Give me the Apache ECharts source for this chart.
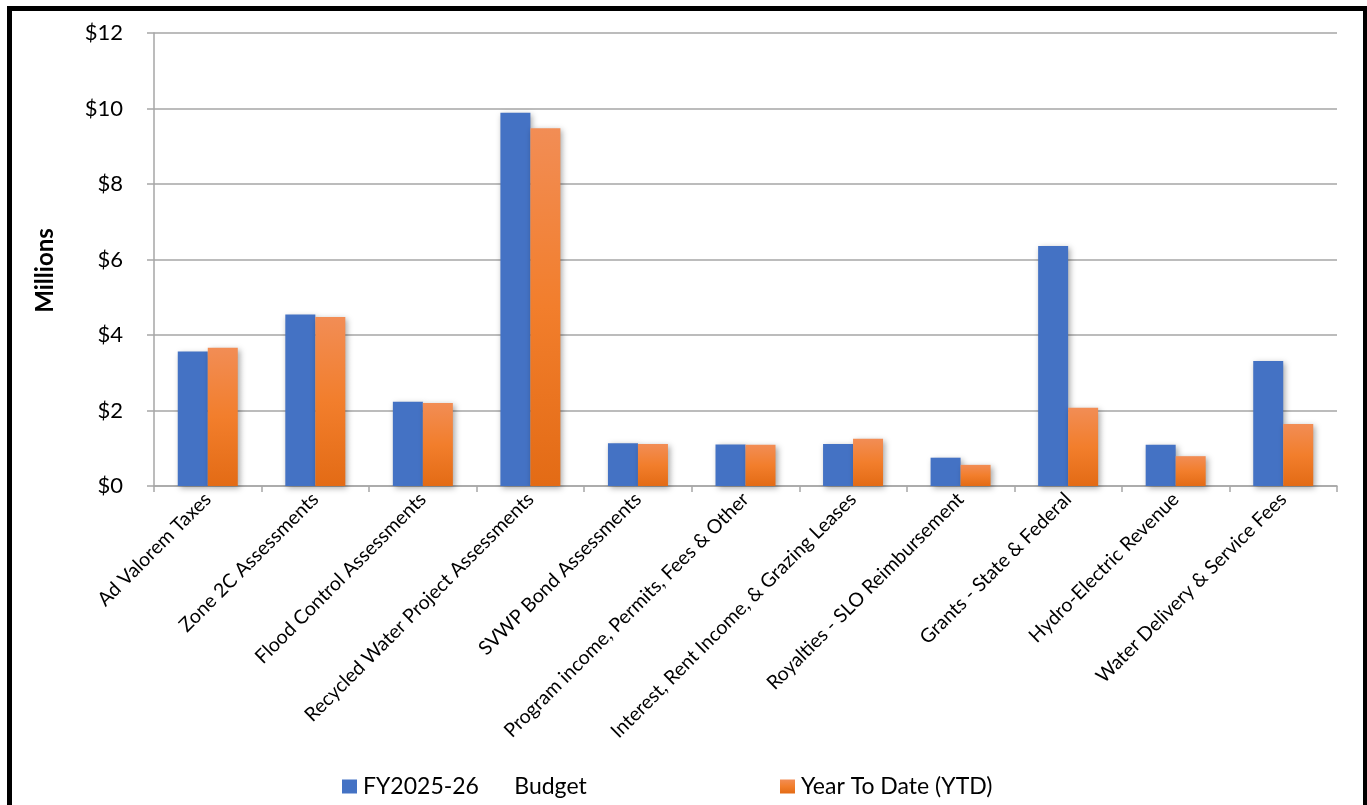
<!DOCTYPE html>
<html>
<head>
<meta charset="utf-8">
<script src="https://cdn.jsdelivr.net/npm/echarts@6/dist/echarts.min.js"></script>
<style>
html,body{margin:0;padding:0;background:#fff;}
#chart{width:1367px;height:805px;}
</style>
</head>
<body>
<div id="chart"></div>
<script>
const categories = [
  "Ad Valorem Taxes",
  "Zone 2C Assessments",
  "Flood Control Assessments",
  "Recycled Water Project Assessments",
  "SVWP Bond Assessments",
  "Program income, Permits, Fees & Other",
  "Interest, Rent Income, & Grazing Leases",
  "Royalties - SLO Reimbursement",
  "Grants - State & Federal",
  "Hydro-Electric Revenue",
  "Water Delivery & Service Fees"
];
const budget = [3.56, 4.54, 2.23, 9.89, 1.13, 1.10, 1.11, 0.75, 6.36, 1.09, 3.31];
const ytd    = [3.66, 4.48, 2.20, 9.48, 1.11, 1.09, 1.25, 0.56, 2.07, 0.79, 1.64];
const budgetName = "FY2025-26      Budget";
const ytdName = "Year To Date (YTD)";

const FONT = "Lato, 'Open Sans', sans-serif";
const chart = echarts.init(document.getElementById('chart'), null, {renderer: 'canvas'});
const orangeGrad = new echarts.graphic.LinearGradient(0, 0, 0, 1, [
  {offset: 0, color: '#F28D55'},
  {offset: 0.5, color: '#F27E2C'},
  {offset: 1, color: '#E36B15'}
]);
const shadow = {shadowBlur: 6, shadowColor: 'rgba(0,0,0,0.35)', shadowOffsetX: 2, shadowOffsetY: 2};
chart.setOption({
  backgroundColor: '#fff',
  animation: false,
  textStyle: {fontFamily: FONT},
  graphic: [{
    type: 'rect', left: 7, top: 6, silent: true, z: 100,
    shape: {width: 1356, height: 900},
    style: {fill: 'none', stroke: '#000', lineWidth: 5}
  }],
  grid: {left: 154, right: 30, top: 33, bottom: 319, containLabel: false},
  legend: [{
    data: [budgetName], left: 337, top: 770, itemWidth: 15, itemHeight: 14, itemGap: 6, icon: 'rect',
    textStyle: {fontFamily: FONT, fontSize: 23, color: '#000', padding: [0, 0, 0, 1]}
  }, {
    data: [ytdName], left: 775, top: 770, itemWidth: 15, itemHeight: 14, icon: 'rect',
    textStyle: {fontFamily: FONT, fontSize: 23, color: '#000', padding: [0, 0, 0, 1]}
  }],
  xAxis: {
    type: 'category', data: categories,
    axisLine: {lineStyle: {color: '#A6A6A6', width: 1.5}},
    axisTick: {show: true, length: 6, lineStyle: {color: '#A6A6A6', width: 1.5}},
    axisLabel: {rotate: 45, color: '#000', fontSize: 19.5, fontFamily: FONT, margin: 10, interval: 0}
  },
  yAxis: {
    type: 'value', min: 0, max: 12, interval: 2,
    name: 'Millions', nameLocation: 'middle', nameGap: 97,
    nameTextStyle: {fontWeight: 'bold', fontSize: 24, color: '#000', fontFamily: FONT, padding: [0, 22, 0, 0]},
    axisLine: {show: true, lineStyle: {color: '#A6A6A6', width: 1.5}},
    axisTick: {show: true, length: 7, lineStyle: {color: '#A6A6A6', width: 1.5}},
    splitLine: {lineStyle: {color: '#A6A6A6', width: 1.5}},
    axisLabel: {color: '#000', fontSize: 22, fontFamily: FONT, margin: 31, formatter: v => '$' + v}
  },
  series: [{
    name: budgetName, type: 'bar', data: budget, barWidth: 30, barGap: '0%',
    itemStyle: Object.assign({color: '#4472C4'}, shadow)
  }, {
    name: ytdName, type: 'bar', data: ytd, barWidth: 30,
    itemStyle: Object.assign({color: orangeGrad}, shadow)
  }]
});
</script>
</body>
</html>
